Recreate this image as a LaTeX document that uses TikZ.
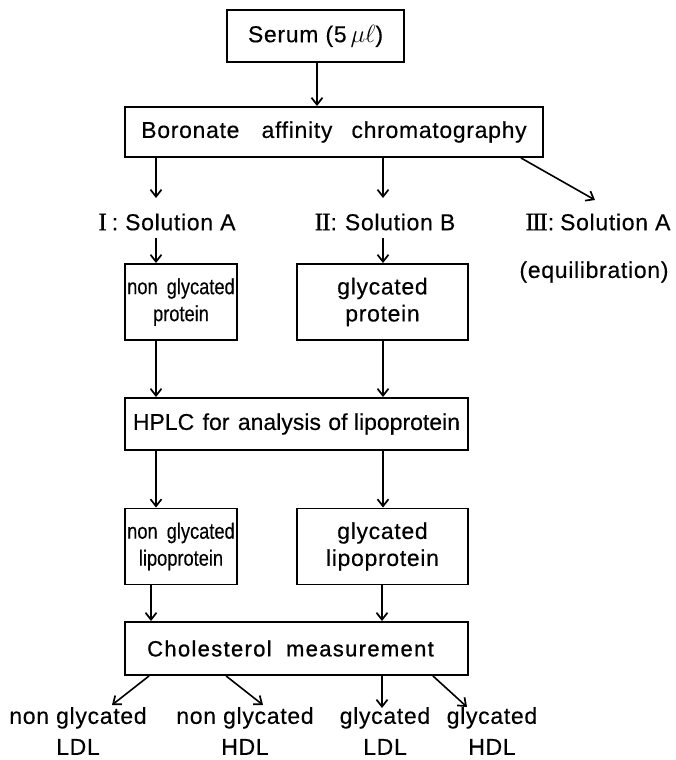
\documentclass[tikz,border=0pt]{standalone}
\usepackage{fontspec}
\setmainfont{Liberation Sans}[FakeBold=0.35]
\newfontfamily\romfont{Liberation Serif}[FakeBold=0.8]
\usetikzlibrary{arrows.meta,calc}
\newcommand\fsmain{\fontsize{23}{27}\selectfont\addfontfeature{LetterSpace=3}}
\newcommand\fsnarrow{\fontsize{22}{27}\selectfont\addfontfeature{FakeStretch=0.83}}
\newcommand\fslow{\fontsize{23}{31}\selectfont\addfontfeature{LetterSpace=3}}
\newcommand\rom[1]{{\romfont\fontsize{25}{27}\selectfont #1}}
\begin{document}
\begin{tikzpicture}[x=1pt,y=-1pt,
  box/.style={draw, line width=1.9pt, inner sep=0pt, align=center, font=\fsmain},
  lbl/.style={inner sep=0pt, align=center, font=\fsmain},
  arr/.style={line width=1.6pt, -{Straight Barb[length=7pt,width=11pt,line width=1.7pt]}}]
\useasboundingbox (0,0) rectangle (675,760);
% boxes
\node[box, minimum width=177pt, minimum height=52pt] (serum) at (315.5,36) {Serum (5\,$\mu\ell$)};
\node[box, minimum width=418pt, minimum height=50pt] (boron) at (334,132)
  {Boronate\hspace{15pt} affinity\hspace{12pt} chromatography};
\node[lbl] (solI) at (167,222) {\rom{I}\hspace{5pt}:\hspace{7pt}Solution A};
\node[lbl] (solII) at (385,222) {\rom{I\kern-0.8pt I}:\hspace{8pt}Solution B};
\node[lbl] (solIII) at (598,222) {\rom{I\kern-1.4pt I\kern-1.4pt I}:\hspace{6pt}Solution A};
\node[lbl] (equil) at (594,272) {(equilibration)};
\node[box, minimum width=112pt, minimum height=76pt, font=\fsnarrow] (protL) at (181,302)
  {non\hspace{4pt} glycated\\protein};
\node[box, minimum width=171pt, minimum height=76pt] (protR) at (382.5,302)
  {glycated\\protein};
\node[box, minimum width=343pt, minimum height=52pt,
  font=\fontsize{23}{27}\selectfont] (hplc) at (296.5,424)
  {HPLC\hspace{2pt} for\hspace{2pt} analysis\hspace{1pt} of lipoprotein};
\node[box, minimum width=112pt, minimum height=76pt, font=\fsnarrow] (lipoL) at (181,546.5)
  {non\hspace{4pt} glycated\\lipoprotein};
\node[box, minimum width=171pt, minimum height=76pt] (lipoR) at (382.5,546.5)
  {glycated\\lipoprotein};
\node[box, minimum width=343pt, minimum height=53pt,
  font=\fontsize{22}{27}\selectfont\addfontfeature{LetterSpace=6,FakeBold=0.9}] (chol) at (296.5,648.5)
  {Cholesterol\hspace{7pt} measurement\hspace{12pt}};
\node[lbl, font=\fslow] (nLDL) at (78,731) {non glycated\\LDL};
\node[lbl, font=\fslow] (nHDL) at (245,731) {non glycated\\HDL};
\node[lbl, font=\fslow] (gLDL) at (385,731) {glycated\\LDL};
\node[lbl, font=\fslow] (gHDL) at (492,731) {glycated\\HDL};
% column coordinates
\coordinate (cS) at (317,0);
\coordinate (cL) at (156,0);
\coordinate (cR) at (383,0);
\coordinate (cL2) at (151,0);
\coordinate (cR2) at (382,0);
% connectors
\draw[arr] (serum.south -| cS) -- (boron.north -| cS);
\draw[arr] (boron.south -| cL) -- ([yshift=24pt]solI.center -| cL);
\draw[arr] (boron.south -| cR) -- ([yshift=24pt]solII.center -| cR);
\draw[arr] ([xshift=-23pt]boron.south east) -- ([xshift=-3pt,yshift=22pt]solIII.center);
\draw[arr] ([yshift=-16pt]solI.center -| cL) -- (protL.north -| cL);
\draw[arr] ([yshift=-16pt]solII.center -| cR) -- (protR.north -| cR);
\draw[arr] (protL.south -| cL) -- (hplc.north -| cL);
\draw[arr] (protR.south -| cR) -- (hplc.north -| cR);
\draw[arr] (hplc.south -| cL) -- (lipoL.north -| cL);
\draw[arr] (hplc.south -| cR) -- (lipoR.north -| cR);
\draw[arr] (lipoL.south -| cL2) -- (chol.north -| cL2);
\draw[arr] (lipoR.south -| cR2) -- (chol.north -| cR2);
\draw[arr] ([xshift=25pt]chol.south west) -- ([xshift=34pt,yshift=26pt]nLDL.center);
\draw[arr] ([xshift=102pt]chol.south west) -- ([xshift=18pt,yshift=26pt]nHDL.center);
\draw[arr] (chol.south -| cR2) -- ([yshift=23pt]gLDL.center -| cR2);
\draw[arr] ([xshift=-36pt]chol.south east) -- ([xshift=-25pt,yshift=24pt]gHDL.center);
\end{tikzpicture}
\end{document}
